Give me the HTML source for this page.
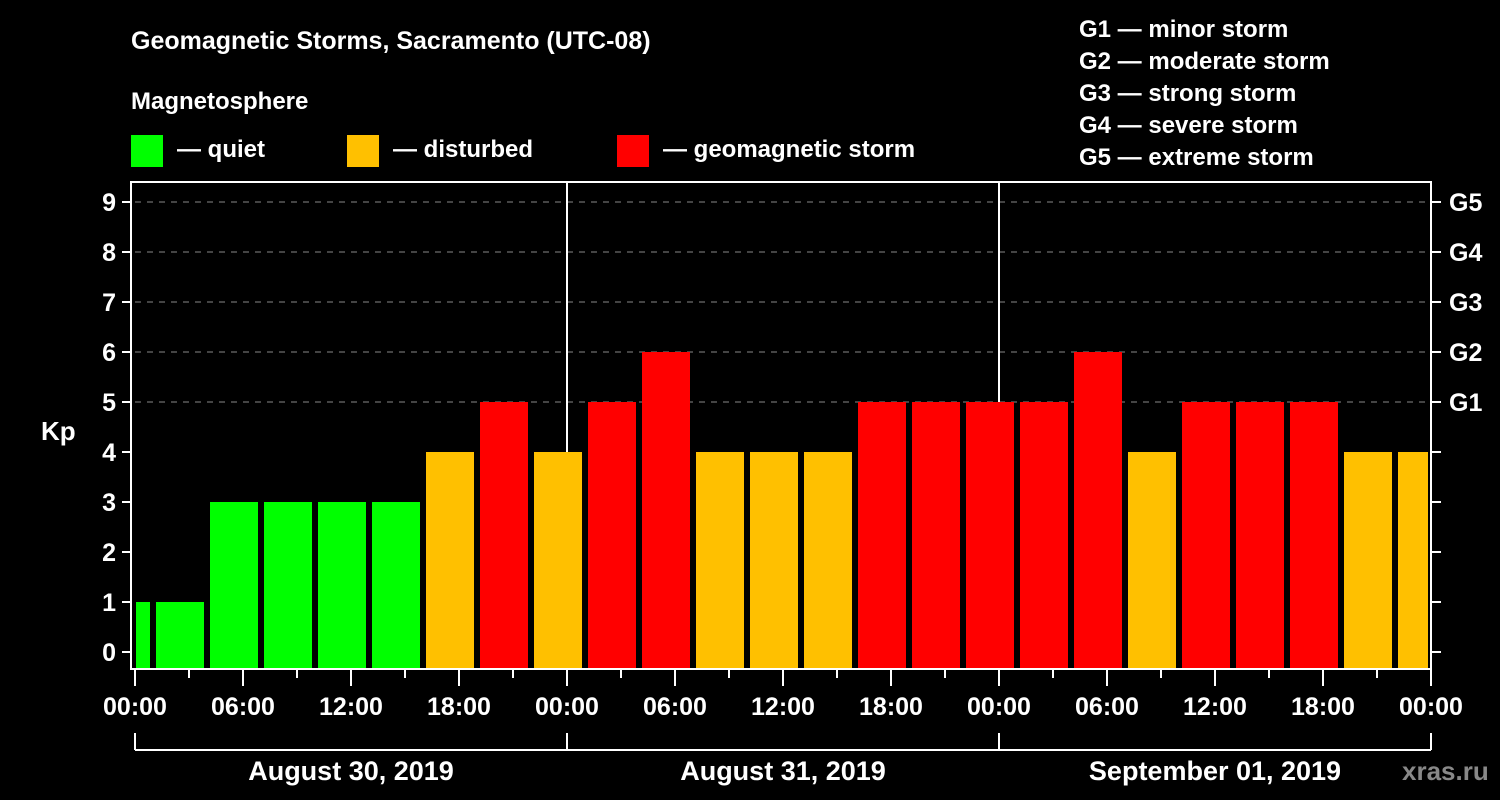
<!DOCTYPE html>
<html><head><meta charset="utf-8"><style>
html,body{margin:0;padding:0;background:#000;}
svg{display:block;font-family:"Liberation Sans",Arial,sans-serif;font-weight:bold;}
</style></head><body>
<svg id="c" width="1500" height="800" viewBox="0 0 1500 800">
<rect width="1500" height="800" fill="#000"/>
<text x="131" y="49" fill="#fff" font-size="25">Geomagnetic Storms, Sacramento (UTC-08)</text>
<text x="131" y="109" fill="#fff" font-size="24">Magnetosphere</text>
<g><rect x="131" y="135" width="32" height="32" fill="#00ff00"/><text x="177" y="157" fill="#fff" font-size="24">— quiet</text></g>
<g><rect x="347" y="135" width="32" height="32" fill="#ffc000"/><text x="393" y="157" fill="#fff" font-size="24">— disturbed</text></g>
<g><rect x="617" y="135" width="32" height="32" fill="#ff0000"/><text x="663" y="157" fill="#fff" font-size="24">— geomagnetic storm</text></g>
<g fill="#fff" font-size="24">
<text x="1079" y="37">G1 — minor storm</text>
<text x="1079" y="69">G2 — moderate storm</text>
<text x="1079" y="101">G3 — strong storm</text>
<text x="1079" y="133">G4 — severe storm</text>
<text x="1079" y="165">G5 — extreme storm</text>
</g>
<text x="41" y="440" fill="#fff" font-size="26">Kp</text>
<text x="1402" y="780" fill="#888" font-size="26">xras.ru</text>
<g id="plot"></g>
</svg>
<script>
const kpValues=[1,1,3,3,3,3,4,5,4,5,6,4,4,4,5,5,5,5,6,4,5,5,5,4,4];
const yTicks=[0,1,2,3,4,5,6,7,8,9];
const gLabels=["G1","G2","G3","G4","G5"];
const xTickLabels=["00:00","06:00","12:00","18:00","00:00","06:00","12:00","18:00","00:00","06:00","12:00","18:00","00:00"];
const dayLabels=["August 30, 2019","August 31, 2019","September 01, 2019"];
const NS="http://www.w3.org/2000/svg";
const L=135,R=1431,T=182,B=669;
const xH=h=>L+h*18; // hours from start
const yV=v=>652-v*50;
const g=document.getElementById('plot');
function mk(t,a,p){const e=document.createElementNS(NS,t);for(const k in a)e.setAttribute(k,a[k]);(p||g).appendChild(e);return e;}
// gridlines
for(let v=5;v<=9;v++){const e=mk('line',{x1:L,x2:R,y1:yV(v),y2:yV(v),stroke:'#888','stroke-width':1,'stroke-dasharray':'6,6'});

}
// day separators
for(let d=1;d<3;d++){const e=mk('line',{x1:xH(24*d),x2:xH(24*d),y1:T,y2:B,stroke:'#fff','stroke-width':2});

}
// bars
kpValues.forEach((v,i)=>{
 let s=xH(1+3*(i-1))+3,e=s+48;
 s=Math.max(s,L+1);e=Math.min(e,R-3);
 const col=v>=5?'#ff0000':(v>=4?'#ffc000':'#00ff00');
 const r=mk('rect',{x:s,y:yV(v),width:e-s,height:B-1-yV(v),fill:col});
 
 
});
// frame
const f=mk('rect',{x:131,y:T,width:R-131,height:B-T,fill:'none',stroke:'#fff','stroke-width':2});


// y ticks
yTicks.forEach(v=>{
 mk('line',{x1:122,x2:131,y1:yV(v),y2:yV(v),stroke:'#fff','stroke-width':2});
 mk('line',{x1:R,x2:R+10,y1:yV(v),y2:yV(v),stroke:'#fff','stroke-width':2});
 const t=mk('text',{x:116,y:yV(v)+9,'text-anchor':'end',fill:'#fff','font-size':25});t.textContent=v;
 
 
});
gLabels.forEach((s,i)=>{const t=mk('text',{x:1449,y:yV(5+i)+9,fill:'#fff','font-size':25});t.textContent=s;
 
 });
// x ticks
for(let h=0;h<=72;h+=3){const long=h%6===0;mk('line',{x1:xH(h),x2:xH(h),y1:B,y2:long?686:678,stroke:'#fff','stroke-width':2});}
xTickLabels.forEach((s,i)=>{const t=mk('text',{x:xH(i*6),y:715,'text-anchor':'middle',fill:'#fff','font-size':25});t.textContent=s;
 
 });
// day bracket
mk('line',{x1:L,x2:R,y1:750,y2:750,stroke:'#fff','stroke-width':2});
for(let d=0;d<=3;d++)mk('line',{x1:xH(24*d),x2:xH(24*d),y1:733,y2:750,stroke:'#fff','stroke-width':2});
dayLabels.forEach((s,i)=>{const t=mk('text',{x:xH(24*i+12),y:780,'text-anchor':'middle',fill:'#fff','font-size':27});t.textContent=s;
 
 });
</script>
</body></html>
